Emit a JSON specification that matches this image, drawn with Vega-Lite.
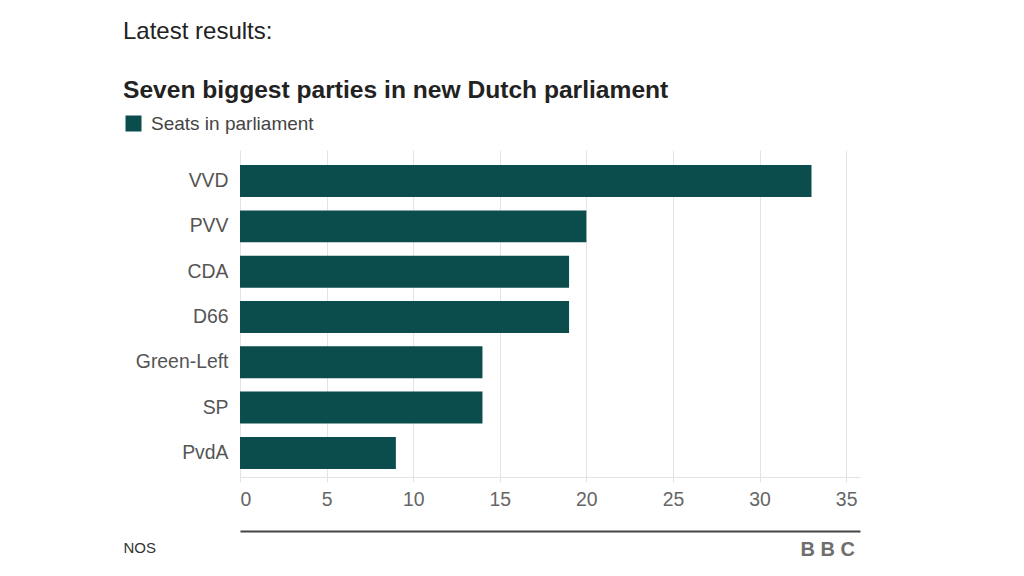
{
  "$schema": "https://vega.github.io/schema/vega-lite/v6.json",
  "width": 620,
  "height": 327,
  "autosize": "none",
  "padding": {"left": 240, "top": 150, "right": 164, "bottom": 99},
  "background": "white",
  "config": {
    "font": "Liberation Sans",
    "view": {"stroke": null}
  },
  "title": {
    "text": "Latest results:",
    "subtitle": "Seven biggest parties in new Dutch parliament",
    "anchor": "start",
    "frame": "group",
    "dx": -117,
    "offset": 11,
    "fontSize": 24,
    "fontWeight": "normal",
    "color": "#222222",
    "subtitleFontSize": 24.6,
    "subtitleFontWeight": "bold",
    "subtitleColor": "#222222",
    "subtitlePadding": 35
  },
  "data": {
    "values": [
      {"party": "VVD", "seats": 33},
      {"party": "PVV", "seats": 20},
      {"party": "CDA", "seats": 19},
      {"party": "D66", "seats": 19},
      {"party": "Green-Left", "seats": 14},
      {"party": "SP", "seats": 14},
      {"party": "PvdA", "seats": 9}
    ]
  },
  "encoding": {
    "y": {
      "field": "party",
      "type": "nominal",
      "sort": null,
      "scale": {"paddingInner": 0.294, "paddingOuter": 0.256, "align": 0.65},
      "axis": {
        "title": null,
        "ticks": false,
        "domain": false,
        "grid": false,
        "labelPadding": 12,
        "labelFontSize": 19.4,
        "labelColor": "#555555"
      }
    }
  },
  "layer": [
    {
      "mark": {"type": "bar", "cornerRadius": 0},
      "encoding": {
        "x": {
          "field": "seats",
          "type": "quantitative",
          "scale": {"domain": [0, 35.8], "nice": false, "zero": true},
          "axis": {
            "title": null,
            "values": [0, 5, 10, 15, 20, 25, 30, 35],
            "grid": true,
            "gridColor": "#e3e3e3",
            "domainColor": "#e3e3e3",
            "tickColor": "#e3e3e3",
            "tickSize": 5,
            "labelPadding": 8,
            "labelFontSize": 19.4,
            "labelColor": "#666666"
          }
        },
        "color": {
          "datum": "Seats in parliament",
          "scale": {"range": ["#0b4d4c"]},
          "legend": {
            "title": null,
            "orient": "none",
            "legendX": -116,
            "legendY": -36,
            "padding": 0,
            "symbolType": "square",
            "symbolSize": 256,
            "symbolStrokeWidth": 0,
            "symbolOpacity": 1,
            "labelFontSize": 19,
            "labelLimit": 400,
            "labelColor": "#444444",
            "labelOffset": 8
          }
        }
      }
    },
    {
      "mark": {"type": "bar", "opacity": 0},
      "encoding": {
        "x": {
          "field": "seats",
          "type": "quantitative",
          "scale": {"domain": [0, 35.8], "nice": false, "zero": true},
          "axis": {
            "orient": "bottom",
            "offset": 54,
            "grid": false,
            "ticks": false,
            "domainColor": "#444444",
            "domainWidth": 2,
            "values": [33.9],
            "labelExpr": "'B B C'",
            "labelFontSize": 20,
            "labelFontWeight": "bold",
            "labelColor": "#6e6e6e",
            "labelPadding": 8,
            "title": "NOS",
            "titleX": -117,
            "titleY": 9,
            "titleAlign": "left",
            "titleBaseline": "top",
            "titleFontSize": 15,
            "titleFontWeight": "normal",
            "titleColor": "#333333"
          }
        }
      }
    }
  ],
  "resolve": {"scale": {"x": "independent"}, "axis": {"x": "independent"}}
}
